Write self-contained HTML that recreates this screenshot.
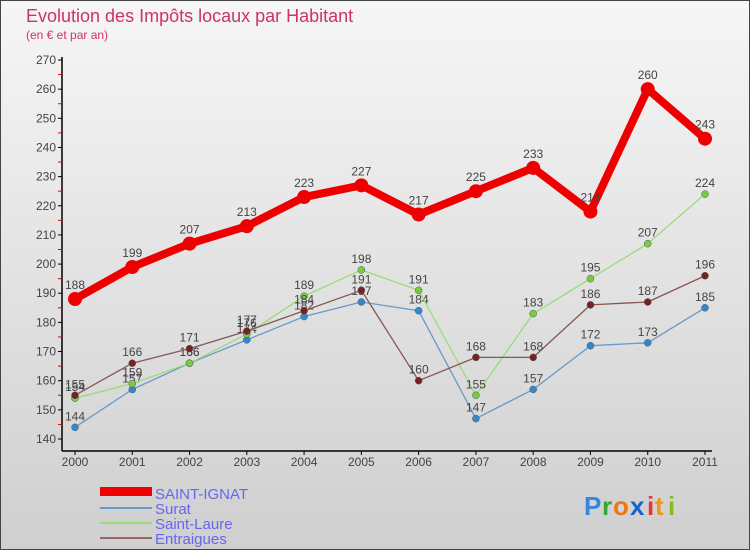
<!DOCTYPE html>
<html><head><meta charset="utf-8"><style>
body{margin:0;width:750px;height:550px;overflow:hidden;font-family:"Liberation Sans",sans-serif}
#c{position:absolute;left:0;top:0}
</style></head><body>
<svg id="c" width="750" height="550">
<defs><linearGradient id="bg" x1="0" y1="0" x2="0" y2="1"><stop offset="0" stop-color="#f6f6f6"/><stop offset="1" stop-color="#cfcfcf"/></linearGradient></defs>
<rect x="0.5" y="0.5" width="749" height="549" fill="url(#bg)" stroke="#444"/>
<text x="26" y="22" font-size="18" fill="#cc3366">Evolution des Impôts locaux par Habitant</text>
<text x="26" y="39" font-size="12" fill="#cc3366">(en € et par an)</text>
<g id="axes"></g><g id="series"></g>
<g>
<rect x="100" y="487" width="52" height="9" fill="#ee0000"/>
<text x="155" y="499" font-size="15" fill="#6666ee">SAINT-IGNAT</text>
<rect x="100" y="507" width="52" height="2" fill="#6699cc"/>
<text x="155" y="514" font-size="15" fill="#6666ee">Surat</text>
<rect x="100" y="522" width="52" height="2" fill="#99dd77"/>
<text x="155" y="529" font-size="15" fill="#6666ee">Saint-Laure</text>
<rect x="100" y="537" width="52" height="2" fill="#996666"/>
<text x="155" y="544" font-size="15" fill="#6666ee">Entraigues</text>
</g>
<g font-size="26" font-weight="bold">
<text x="584" y="515" fill="#3388dd">P</text><text x="602" y="515" fill="#33aa33">r</text><text x="613" y="515" fill="#ee7711">o</text><text x="630" y="515" fill="#1166cc">x</text><text x="647" y="515" fill="#ee3333">i</text><text x="655" y="515" fill="#ee9911">t</text><text x="668" y="515" fill="#88bb22">i</text>
</g>
</svg>
<script>
const years=[2000,2001,2002,2003,2004,2005,2006,2007,2008,2009,2010,2011];
const yTicks=[140,150,160,170,180,190,200,210,220,230,240,250,260,270];
const saintIgnat=[188,199,207,213,223,227,217,225,233,218,260,243];
const surat=[144,157,166,174,182,187,184,147,157,172,173,185];
const saintLaure=[154,159,166,176,189,198,191,155,183,195,207,224];
const entraigues=[155,166,171,177,184,191,160,168,168,186,187,196];
const NS='http://www.w3.org/2000/svg';
function X(i){return 75+i*(705-75)/11;}
function Y(v){return 439-(v-140)*(439-60)/130;}
function mk(t,a,p){const e=document.createElementNS(NS,t);for(const k in a)e.setAttribute(k,a[k]);p.appendChild(e);return e;}
const ax=document.getElementById('axes');
let l=mk('line',{x1:62,y1:Y(270)-3,x2:62,y2:451,stroke:'#000','stroke-width':1.5},ax);


l=mk('line',{x1:62,y1:451,x2:712,y2:451,stroke:'#000','stroke-width':1.5},ax);


yTicks.forEach(v=>{
  mk('line',{x1:58,y1:Y(v),x2:62,y2:Y(v),stroke:'#000'},ax);
  if(v<270)mk('line',{x1:58,y1:Y(v+5),x2:62,y2:Y(v+5),stroke:'#e00'},ax);
  const t=mk('text',{x:56,y:Y(v)+4,'font-size':12,fill:'#444','text-anchor':'end'},ax);
  t.textContent=v;
  
  
});
years.forEach((yr,i)=>{
  mk('line',{x1:X(i),y1:451,x2:X(i),y2:455,stroke:'#000'},ax);
  const t=mk('text',{x:X(i),y:466,'font-size':12,fill:'#444','text-anchor':'middle'},ax);
  t.textContent=yr;
  
  
});
const sg=document.getElementById('series');
function draw(name,data,color,dot,w,r){
  const g=mk('g',{},sg);
  
  
  const pl=mk('polyline',{points:data.map((v,i)=>X(i)+','+Y(v)).join(' '),fill:'none',stroke:color,'stroke-width':w,'stroke-linejoin':'round'},g);
  
  
  data.forEach((v,i)=>{
    const c=mk('circle',{cx:X(i),cy:Y(v),r:r,fill:dot,stroke:w>3?'none':'#555','stroke-width':0.5},g);
    
    
    const t=mk('text',{x:X(i),y:Y(v)-(w>3?10:7),'font-size':12,fill:'#444','text-anchor':'middle'},g);
    t.textContent=v;
    
    
  });
}
draw('surat',surat,'#6699cc','#3388cc',1.3,3.5);
draw('saint-laure',saintLaure,'#99dd77','#77cc44',1.3,3.5);
draw('entraigues',entraigues,'#885555','#772222',1.3,3.5);
draw('saint-ignat',saintIgnat,'#ee0000','#ee0000',8,7);
</script>
</body></html>
